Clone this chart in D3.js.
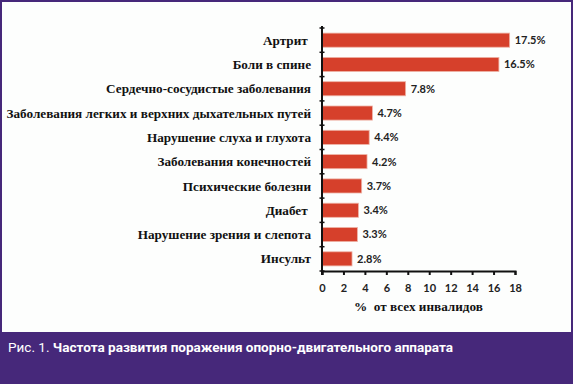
<!DOCTYPE html>
<html>
<head>
<meta charset="utf-8">
<script src="https://cdn.jsdelivr.net/npm/d3@7"></script>
<style>
  html, body { margin: 0; padding: 0; background: #46287a; }
  svg { display: block; }
  .cat { font-family: "Liberation Serif", "Times New Roman", serif; font-weight: bold; font-size: 13.2px; fill: #111; white-space: pre; }
  .val, .tick text { font-family: Lato, "Open Sans", sans-serif; font-weight: bold; font-size: 11px; fill: #222; }
</style>
</head>
<body>
<div id="chart"></div>
<script>
const categories = [
  "Артрит ",
  "Боли в спине",
  "Сердечно-сосудистые заболевания",
  "Заболевания легких и верхних дыхательных путей",
  "Нарушение слуха и глухота",
  "Заболевания конечностей",
  "Психические болезни",
  "Диабет ",
  "Нарушение зрения и слепота",
  "Инсульт"
];
const values = [17.5, 16.5, 7.8, 4.7, 4.4, 4.2, 3.7, 3.4, 3.3, 2.8];
const xTicks = [0, 2, 4, 6, 8, 10, 12, 14, 16, 18];
const xTitle = "%  от всех инвалидов";
const captionLead = "Рис. 1. ";
const captionText = "Частота развития поражения опорно-двигательного аппарата";

const W = 573, H = 384;
const svg = d3.select("#chart").append("svg")
  .attr("width", W).attr("height", H);

// frame
svg.append("rect").attr("width", W).attr("height", H).attr("fill", "#46287a");
svg.append("rect").attr("x", 2).attr("y", 2).attr("width", 569).attr("height", 330).attr("fill", "#fdfefd");

const x = d3.scaleLinear().domain([0, 18]).range([322, 515]);
const y = d3.scaleBand().domain(categories).range([28, 271]).paddingInner(0.42).paddingOuter(0.21);

const plot = svg.append("g");

// bars
plot.selectAll("rect.bar")
  .data(categories)
  .join("rect")
  .attr("class", "bar")
  .attr("x", x(0))
  .attr("y", d => y(d))
  .attr("width", (d, i) => x(values[i]) - x(0))
  .attr("height", y.bandwidth())
  .attr("fill", "#d6402b")
  .attr("stroke", "#eeb3a6")
  .attr("stroke-width", 0.8);

// value labels
plot.selectAll("text.val")
  .data(categories)
  .join("text")
  .attr("class", "val")
  .attr("x", (d, i) => x(values[i]) + 5)
  .attr("y", d => y(d) + y.bandwidth() / 2)
  .attr("dy", "0.35em")
  .text((d, i) => values[i].toFixed(1) + "%");

// category labels
plot.selectAll("text.cat")
  .data(categories)
  .join("text")
  .attr("class", "cat")
  .attr("x", 311)
  .attr("y", d => y(d) + y.bandwidth() / 2)
  .attr("dy", "0.35em")
  .attr("text-anchor", "end")
  .text(d => d);

// y axis line with boundary ticks
const step = y.step();
const bounds = categories.map(d => y(d) - (step - y.bandwidth()) / 2).concat([y.range()[1]]);
plot.append("line")
  .attr("x1", x(0)).attr("x2", x(0))
  .attr("y1", y.range()[0] - 2).attr("y2", y.range()[1] + 4)
  .attr("stroke", "#111").attr("stroke-width", 2);
plot.selectAll("line.yt")
  .data(bounds)
  .join("line")
  .attr("class", "yt")
  .attr("x1", x(0) - 2.5).attr("x2", x(0) + 2.5)
  .attr("y1", d => d).attr("y2", d => d)
  .attr("stroke", "#111").attr("stroke-width", 1.5);

// x axis
const xAxis = plot.append("g")
  .attr("transform", `translate(0,${y.range()[1]})`)
  .call(d3.axisBottom(x).tickValues(xTicks).tickSize(4).tickPadding(9));
xAxis.select(".domain").attr("stroke", "#111").attr("stroke-width", 2);
xAxis.selectAll(".tick line").attr("stroke", "#111").attr("stroke-width", 2);

// axis title
svg.append("text")
  .attr("class", "cat")
  .attr("x", (x(0) + x(18)) / 2)
  .attr("y", 311)
  .attr("text-anchor", "middle")
  .text(xTitle);

// caption
const cap = svg.append("text")
  .attr("x", 8).attr("y", 352)
  .attr("fill", "#fff")
  .attr("font-family", "Roboto, 'Liberation Sans', sans-serif")
  .attr("font-size", 13.5)
  .attr("textLength", 445)
  .attr("lengthAdjust", "spacingAndGlyphs");
cap.append("tspan").attr("font-weight", "normal").text(captionLead);
cap.append("tspan").attr("font-weight", "bold").text(captionText);
</script>
</body>
</html>
